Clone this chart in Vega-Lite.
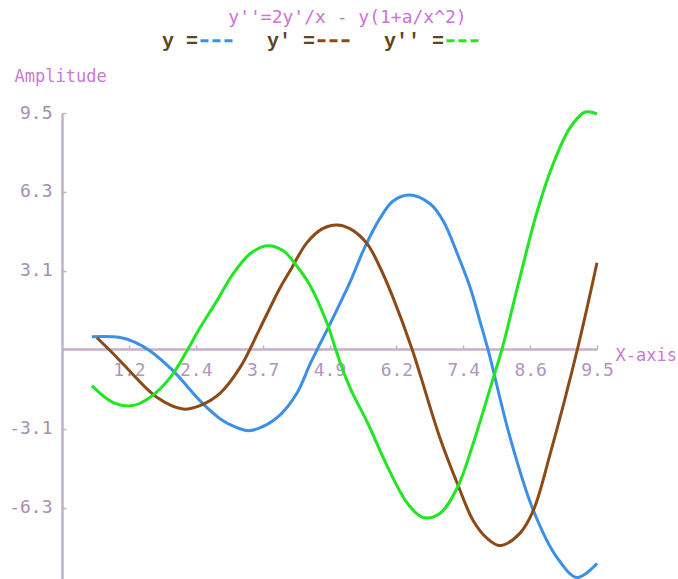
{
  "$schema": "https://vega.github.io/schema/vega-lite/v6.json",
  "width": 535,
  "height": 466,
  "autosize": {"type": "none"},
  "padding": {"left": 62, "top": 113, "right": 81, "bottom": 0},
  "background": "white",
  "config": {"view": {"stroke": null}},
  "title": {
    "text": "y''=2y'/x - y(1+a/x^2)",
    "font": "DejaVu Sans Mono",
    "fontSize": 18,
    "fontWeight": "normal",
    "color": "#cc72d8",
    "anchor": "middle",
    "frame": "group",
    "dx": 18,
    "offset": -4
  },
  "data": {
    "values": [
      {"s": "y", "x": 0.53, "y": 0.52},
      {"s": "y", "x": 1.03, "y": 0.49},
      {"s": "y", "x": 1.3, "y": 0.3},
      {"s": "y", "x": 1.56, "y": -0.04},
      {"s": "y", "x": 1.97, "y": -0.84},
      {"s": "y", "x": 2.5, "y": -2.16},
      {"s": "y", "x": 2.86, "y": -2.85},
      {"s": "y", "x": 3.16, "y": -3.17},
      {"s": "y", "x": 3.3, "y": -3.25},
      {"s": "y", "x": 3.52, "y": -3.13},
      {"s": "y", "x": 3.87, "y": -2.62},
      {"s": "y", "x": 4.17, "y": -1.75},
      {"s": "y", "x": 4.4, "y": -0.6},
      {"s": "y", "x": 4.53, "y": 0.0},
      {"s": "y", "x": 4.76, "y": 1.04},
      {"s": "y", "x": 5.1, "y": 2.64},
      {"s": "y", "x": 5.37, "y": 4.08},
      {"s": "y", "x": 5.65, "y": 5.29},
      {"s": "y", "x": 5.88, "y": 5.97},
      {"s": "y", "x": 6.18, "y": 6.21},
      {"s": "y", "x": 6.54, "y": 5.85},
      {"s": "y", "x": 6.77, "y": 5.17},
      {"s": "y", "x": 7.02, "y": 3.85},
      {"s": "y", "x": 7.25, "y": 2.48},
      {"s": "y", "x": 7.42, "y": 1.16},
      {"s": "y", "x": 7.57, "y": -0.04},
      {"s": "y", "x": 7.96, "y": -3.55},
      {"s": "y", "x": 8.37, "y": -6.45},
      {"s": "y", "x": 8.79, "y": -8.34},
      {"s": "y", "x": 9.15, "y": -9.14},
      {"s": "y", "x": 9.5, "y": -8.58},
      {"s": "y'", "x": 0.62, "y": 0.48},
      {"s": "y'", "x": 0.91, "y": -0.16},
      {"s": "y'", "x": 1.08, "y": -0.56},
      {"s": "y'", "x": 1.69, "y": -1.92},
      {"s": "y'", "x": 2.15, "y": -2.38},
      {"s": "y'", "x": 2.45, "y": -2.24},
      {"s": "y'", "x": 2.8, "y": -1.76},
      {"s": "y'", "x": 3.16, "y": -0.72},
      {"s": "y'", "x": 3.52, "y": 0.88},
      {"s": "y'", "x": 3.87, "y": 2.48},
      {"s": "y'", "x": 4.05, "y": 3.17},
      {"s": "y'", "x": 4.35, "y": 4.3},
      {"s": "y'", "x": 4.62, "y": 4.85},
      {"s": "y'", "x": 4.88, "y": 5.01},
      {"s": "y'", "x": 5.12, "y": 4.85},
      {"s": "y'", "x": 5.42, "y": 4.25},
      {"s": "y'", "x": 5.65, "y": 3.29},
      {"s": "y'", "x": 5.88, "y": 2.08},
      {"s": "y'", "x": 6.22, "y": 0.0},
      {"s": "y'", "x": 6.36, "y": -1.0},
      {"s": "y'", "x": 6.71, "y": -3.53},
      {"s": "y'", "x": 7.02, "y": -5.37},
      {"s": "y'", "x": 7.3, "y": -6.85},
      {"s": "y'", "x": 7.55, "y": -7.57},
      {"s": "y'", "x": 7.78, "y": -7.86},
      {"s": "y'", "x": 8.13, "y": -7.37},
      {"s": "y'", "x": 8.37, "y": -6.45},
      {"s": "y'", "x": 8.67, "y": -4.17},
      {"s": "y'", "x": 9.15, "y": 0.0},
      {"s": "y'", "x": 9.5, "y": 3.49},
      {"s": "y''", "x": 0.53, "y": -1.44},
      {"s": "y''", "x": 0.91, "y": -2.12},
      {"s": "y''", "x": 1.26, "y": -2.24},
      {"s": "y''", "x": 1.56, "y": -1.92},
      {"s": "y''", "x": 1.92, "y": -1.12},
      {"s": "y''", "x": 2.22, "y": -0.04},
      {"s": "y''", "x": 2.45, "y": 0.88},
      {"s": "y''", "x": 2.75, "y": 1.96},
      {"s": "y''", "x": 3.04, "y": 3.05},
      {"s": "y''", "x": 3.34, "y": 3.85},
      {"s": "y''", "x": 3.64, "y": 4.17},
      {"s": "y''", "x": 3.93, "y": 3.97},
      {"s": "y''", "x": 4.12, "y": 3.5},
      {"s": "y''", "x": 4.4, "y": 2.6},
      {"s": "y''", "x": 4.71, "y": 1.04},
      {"s": "y''", "x": 4.85, "y": 0.08},
      {"s": "y''", "x": 4.99, "y": -0.84},
      {"s": "y''", "x": 5.15, "y": -1.7},
      {"s": "y''", "x": 5.42, "y": -2.9},
      {"s": "y''", "x": 5.77, "y": -4.65},
      {"s": "y''", "x": 6.13, "y": -6.15},
      {"s": "y''", "x": 6.41, "y": -6.73},
      {"s": "y''", "x": 6.71, "y": -6.57},
      {"s": "y''", "x": 7.02, "y": -5.53},
      {"s": "y''", "x": 7.3, "y": -3.77},
      {"s": "y''", "x": 7.66, "y": -1.12},
      {"s": "y''", "x": 7.82, "y": 0.08},
      {"s": "y''", "x": 8.13, "y": 2.89},
      {"s": "y''", "x": 8.44, "y": 5.57},
      {"s": "y''", "x": 8.72, "y": 7.45},
      {"s": "y''", "x": 9.02, "y": 8.9},
      {"s": "y''", "x": 9.29, "y": 9.54},
      {"s": "y''", "x": 9.5, "y": 9.46}
    ]
  },
  "mark": {"type": "line", "strokeWidth": 3, "interpolate": "catmull-rom", "clip": false},
  "encoding": {
    "x": {
      "field": "x",
      "type": "quantitative",
      "scale": {"domain": [0, 9.5], "nice": false, "zero": false},
      "axis": {
        "orient": "bottom",
        "offset": -230,
        "values": [1.1875, 2.375, 3.5625, 4.75, 5.9375, 7.125, 8.3125, 9.5],
        "labelExpr": "['1.2','2.4','3.7','4.9','6.2','7.4','8.6','9.5'][round(datum.value/1.1875)-1]",
        "grid": false,
        "domainColor": "#c4b0c8",
        "domainWidth": 2.5,
        "tickColor": "#c4b0c8",
        "tickWidth": 1.5,
        "tickSize": -4,
        "labelFont": "DejaVu Sans Mono",
        "labelFontSize": 18,
        "labelColor": "#b294bd",
        "labelPadding": 16,
        "labelDx": 4,
        "labelFlush": false,
        "labelOverlap": false,
        "title": "X-axis",
        "titleFont": "DejaVu Sans Mono",
        "titleFontSize": 17,
        "titleFontWeight": "normal",
        "titleColor": "#c87ad6",
        "titleAngle": 0,
        "titleAlign": "left",
        "titleBaseline": "middle",
        "titleX": 553,
        "titleY": 6
      }
    },
    "y": {
      "field": "y",
      "type": "quantitative",
      "scale": {"domain": [-9.2, 9.5], "nice": false, "zero": false},
      "axis": {
        "orient": "left",
        "values": [-6.3333, -3.1667, 3.1667, 6.3333, 9.5],
        "labelExpr": "datum.value > 9 ? '9.5' : datum.value > 6 ? '6.3' : datum.value > 3 ? '3.1' : datum.value > -4 ? '-3.1' : '-6.3'",
        "grid": false,
        "domainColor": "#c0b0c8",
        "domainWidth": 2.5,
        "tickColor": "#c0b0c8",
        "tickWidth": 1.5,
        "tickSize": -4,
        "labelFont": "DejaVu Sans Mono",
        "labelFontSize": 18,
        "labelColor": "#a98cb5",
        "labelPadding": 14,
        "labelFlush": false,
        "labelOverlap": false,
        "title": "Amplitude",
        "titleFont": "DejaVu Sans Mono",
        "titleFontSize": 17,
        "titleFontWeight": "normal",
        "titleColor": "#c87ad6",
        "titleAngle": 0,
        "titleAlign": "left",
        "titleBaseline": "middle",
        "titleX": -48,
        "titleY": -37
      }
    },
    "color": {
      "field": "s",
      "type": "nominal",
      "scale": {"domain": ["y", "y'", "y''"], "range": ["#3b8fe6", "#8b4a16", "#22e622"]},
      "legend": {
        "orient": "none",
        "legendX": 137,
        "legendY": -90,
        "direction": "horizontal",
        "title": null,
        "padding": 0,
        "symbolType": "stroke",
        "symbolSize": 1024,
        "symbolStrokeWidth": 3,
        "symbolDash": [8, 4],
        "labelFont": "Liberation Mono",
        "labelFontWeight": "bold",
        "labelFontSize": 20,
        "labelColor": "#5a4620",
        "labelAlign": "right",
        "labelOffset": -36,
        "columnPadding": 27,
        "labelExpr": "datum.label + ' ='",
        "labelLimit": 0
      }
    }
  }
}
